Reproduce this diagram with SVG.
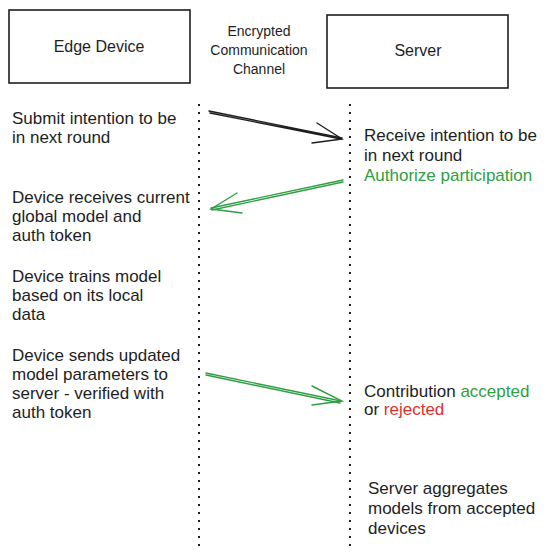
<svg xmlns="http://www.w3.org/2000/svg" width="556" height="560" viewBox="0 0 556 560">
<style>
text{font-family:"Liberation Sans","DejaVu Sans",sans-serif;font-size:17px;fill:#1e1e1e}
.c{text-anchor:middle}
.t{font-size:16px}
.s{font-size:14px}
.g{fill:#2f9e44}
.r{fill:#e03131}
.box{fill:#fff;stroke:#1e1e1e;stroke-width:1.6}
.life{stroke:#1e1e1e;stroke-width:2;stroke-dasharray:2 6;fill:none}
.ab{stroke:#1e1e1e;stroke-width:1.4;fill:none;stroke-linecap:round}
.ag{stroke:#2f9e44;stroke-width:1.4;fill:none;stroke-linecap:round}
</style>
<rect width="556" height="560" fill="#fff"/>
<g id="edge-device">
<rect class="box" x="9" y="10" width="181" height="73"/>
<text class="c t" x="99" y="52">Edge Device</text>
</g>
<g id="server">
<rect class="box" x="327" y="15" width="181" height="73"/>
<text class="c t" x="418" y="56">Server</text>
</g>
<g id="channel-label">
<text class="c s" x="259" y="36">Encrypted</text>
<text class="c s" x="259" y="55">Communication</text>
<text class="c s" x="259" y="74">Channel</text>
</g>
<g id="lifelines">
<line class="life" x1="199" y1="104" x2="199" y2="550"/>
<line class="life" x1="350" y1="104" x2="350" y2="550"/>
</g>
<g id="connectors">
<g id="arrow-intention">
<path class="ab" d="M209 111 L342 138 M210 113 L341 139"/>
<path class="ab" d="M317 123 L342 139 L312 143"/>
</g>
<g id="arrow-authorize">
<path class="ag" d="M343 180 L211 208 M343 182 L212 210"/>
<path class="ag" d="M237 193 L211 209 L242 213"/>
</g>
<g id="arrow-update">
<path class="ag" d="M206 373 L341 401 M206 375 L340 403"/>
<path class="ag" d="M312 386 L342 401 L312 405"/>
</g>
</g>
<g id="step-1-device">
<text x="12" y="124">Submit intention to be</text>
<text x="12" y="143">in next round</text>
</g>
<g id="step-1-server">
<text x="364" y="141">Receive intention to be</text>
<text x="364" y="161">in next round</text>
<text class="g" x="364" y="181">Authorize participation</text>
</g>
<g id="step-2-device">
<text x="12" y="203">Device receives current</text>
<text x="12" y="222">global model and</text>
<text x="12" y="241">auth token</text>
</g>
<g id="step-3-device">
<text x="12" y="282">Device trains model</text>
<text x="12" y="301">based on its local</text>
<text x="12" y="320">data</text>
</g>
<g id="step-4-device">
<text x="12" y="361">Device sends updated</text>
<text x="12" y="380">model parameters to</text>
<text x="12" y="399">server - verified with</text>
<text x="12" y="418">auth token</text>
</g>
<g id="step-4-server">
<text x="364" y="397">Contribution <tspan class="g">accepted</tspan></text>
<text x="364" y="415">or <tspan class="r">rejected</tspan></text>
</g>
<g id="step-5-server">
<text x="368" y="494">Server aggregates</text>
<text x="368" y="514">models from accepted</text>
<text x="368" y="534">devices</text>
</g>
</svg>
